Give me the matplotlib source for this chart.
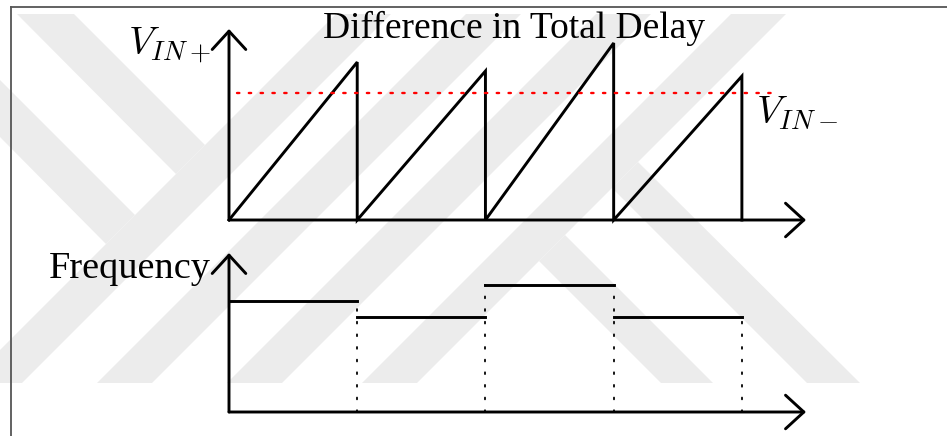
import matplotlib.pyplot as plt
from matplotlib.patches import Polygon
from matplotlib.lines import Line2D

plt.rcParams['font.family'] = ['Liberation Serif', 'DejaVu Serif']
plt.rcParams['mathtext.fontset'] = 'cm'

# V_IN+ : one linear ramp per period, reset at the period end
ramp_start = [0, 1, 2, 3]
ramp_peak = [1.24, 1.17, 1.39, 1.13]
v_in_minus = 1.0        # comparator threshold

# output frequency held during each period
freq_level = [0.87, 0.75, 1.0, 0.75]

W, H = 947, 436
fig = plt.figure(figsize=(W / 100, H / 100), dpi=100)

# faint striped watermark behind the drawing (pixel coordinates)
bg = fig.add_axes([0, 0, 1, 1])
bg.set_xlim(0, W)
bg.set_ylim(H, 0)
bg.axis('off')
wm = []
for a in [350, 480, 610, 745]:          # "/" stripes, x + y in [a, a + 55]
    wm.append([(a - 14, 14), (a + 41, 14), (a + 55 - 383, 383), (a - 383, 383)])
wm += [
    [(17, 14), (74, 14), (205, 145), (176, 174)],          # "\" stripes
    [(0, 80), (135, 215), (106, 244), (0, 137)],
    [(565, 235), (713, 383), (661, 383), (539, 261)],
    [(638, 162), (860, 383), (807, 383), (612, 188)],
]
for pts in wm:
    bg.add_patch(Polygon(pts, closed=True, facecolor='#ececec', edgecolor='none'))


def px_axes(left, right, top, bottom):
    return fig.add_axes([left / W, 1 - bottom / H, (right - left) / W, (bottom - top) / H])


def draw_arrows(ax, xmax, ymax):
    style = '->,head_length=0.6,head_width=0.55'
    for end in [(xmax, 0), (0, ymax)]:
        ax.annotate('', xy=end, xytext=(0, 0), annotation_clip=False,
                    arrowprops=dict(arrowstyle=style, lw=2.1, color='k',
                                    mutation_scale=22, shrinkA=0, shrinkB=0))


# top panel: sawtooth
ax1 = px_axes(229, 806, 29, 220)
ax1.set_xlim(0, 4.5)
ax1.set_ylim(0, 1.5)
ax1.axis('off')
xs, ys = [], []
for t, p in zip(ramp_start, ramp_peak):
    xs += [t, t + 1, t + 1]
    ys += [0, p, 0]
ax1.plot(xs, ys, color='k', lw=2.1, clip_on=False, solid_joinstyle='miter')
ax1.plot([0.062, 4.26], [v_in_minus, v_in_minus], color='red', lw=1.7,
         ls=(0, (1, 4)), dash_capstyle='round', clip_on=False)
draw_arrows(ax1, 4.5, 1.5)

# bottom panel: frequency steps
ax2 = px_axes(229, 806, 253, 412)
ax2.set_xlim(0, 4.5)
ax2.set_ylim(0, 1.25)
ax2.axis('off')
for t, f in zip(ramp_start, freq_level):
    ax2.plot([t, t + 1], [f, f], color='k', lw=2.1, clip_on=False)
edges = [t + 1 for t in ramp_start]
for i, x in enumerate(edges):
    top = max(freq_level[i:i + 2])
    ax2.plot([x, x], [0, top], color='k', lw=1.3, ls=(0, (1, 6)),
             dash_capstyle='round', clip_on=False)
draw_arrows(ax2, 4.5, 1.25)

# labels
fig.text(514 / W, 1 - 38 / H, 'Difference in Total Delay', ha='center',
         va='baseline', fontsize=27)
fig.text(211 / W, 1 - 55 / H, r'$V_{IN+}$', ha='right', va='baseline', fontsize=28)
fig.text(756 / W, 1 - 123 / H, r'$V_{IN-}$', ha='left', va='baseline', fontsize=28)
fig.text(211 / W, 1 - 278 / H, 'Frequency', ha='right', va='baseline', fontsize=27.5)

# frame
fig.add_artist(Line2D([11 / W, 11 / W], [0, 1 - 7 / H], color='#555555', lw=1.3))
fig.add_artist(Line2D([11 / W, 1], [1 - 7 / H, 1 - 7 / H], color='#555555', lw=1.3))

fig.savefig('out.png', dpi=100)
